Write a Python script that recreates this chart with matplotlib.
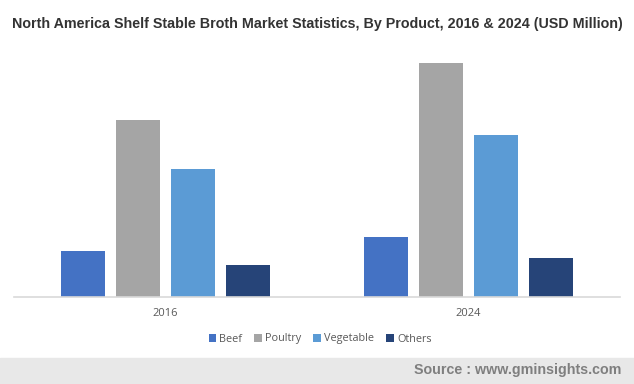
import matplotlib
matplotlib.use("Agg")
import matplotlib.pyplot as plt
import numpy as np
from matplotlib.patches import Rectangle

years = ["2016", "2024"]
products = ["Beef", "Poultry", "Vegetable", "Others"]
beef = [46, 60]
poultry = [177, 234]
vegetable = [128, 162]
others = [32, 39]
series = [beef, poultry, vegetable, others]
colors = ["#4472C4", "#A5A5A5", "#5B9BD5", "#264478"]

W, H = 634, 384
fig = plt.figure(figsize=(W/100, H/100), dpi=100)
plt.rcParams['font.family'] = ['Liberation Sans', 'DejaVu Sans']

ax = fig.add_axes([14/W, 87/H, 606/W, 250/H])
x = np.arange(len(years))
bw = 0.142
step = 0.1815
for i, (name, vals, c) in enumerate(zip(products, series, colors)):
    ax.bar(x + (i - 1.5) * step, vals, width=bw, color=c, label=name)
ax.set_xlim(-0.5, 1.5)
ax.set_ylim(0, 250)
for s in ["top", "right", "left"]:
    ax.spines[s].set_visible(False)
ax.spines["bottom"].set_color("#d9d9d9")
ax.spines["bottom"].set_linewidth(1.2)
ax.set_yticks([])
ax.set_xticks(x)
ax.set_xticklabels(years, color="#595959", fontsize=8, family=["Open Sans", "DejaVu Sans"])
ax.tick_params(axis="x", length=0, pad=8)

leg = fig.legend(loc="center", bbox_to_anchor=(320/W, 1 - 339/H), ncol=4, frameon=False,
                 handlelength=0.7, handleheight=0.7, handletextpad=0.3,
                 columnspacing=1.1, prop={"family": ["Open Sans", "DejaVu Sans"], "size": 7.8})
for t in leg.get_texts():
    t.set_color("#595959")

fig.text(317/W, 1 - 24/H, "North America Shelf Stable Broth Market Statistics, By Product, 2016 & 2024 (USD Million)",
         ha="center", va="center", fontsize=10.3, fontweight="bold", color="#333333")

fig.patches.append(Rectangle((0, 0), 1, 26/H, transform=fig.transFigure, color="#e8e8e8", zorder=0))
fig.text(621/W, 1 - 370/H, "Source : www.gminsights.com", ha="right", va="center",
         fontsize=10.3, fontweight="bold", color="#7f7f7f")

fig.savefig("out.png", dpi=100)
